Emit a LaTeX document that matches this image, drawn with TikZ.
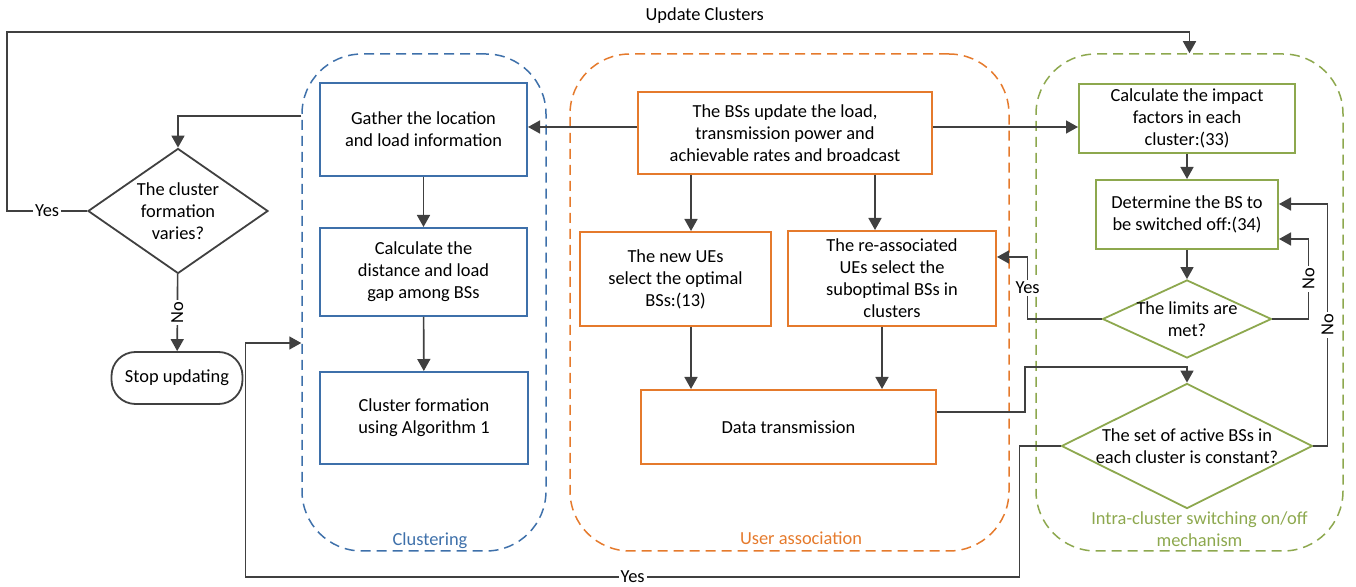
\documentclass[tikz,border=0pt]{standalone}
\usepackage{fontspec}
\setmainfont{Carlito}
\usetikzlibrary{shapes.geometric, arrows.meta, positioning, calc}
\definecolor{clblue}{HTML}{3E70AA}
\definecolor{uaorange}{HTML}{E57A2C}
\definecolor{swgreen}{HTML}{8DA84E}
\definecolor{linegray}{HTML}{404040}

\begin{document}
\begin{tikzpicture}[
		x=0.5pt, y=-0.5pt,
		font=\fontsize{9.2}{11}\selectfont,
		block/.style={
			rectangle, 
			draw, 
			line width=1pt, 
			align=center, 
			inner sep=0pt
		},
		decision/.style={
			diamond, 
			draw, 
			line width=0.9pt, 
			align=center, 
			inner sep=0pt
		},
		group/.style={
			rectangle, 
			draw, 
			dash pattern=on 5pt off 3pt, 
			line width=0.75pt, 
			rounded corners=30pt, 
			minimum height=248.5pt
		},
		arrow/.style={
			-{Triangle[length=6pt, width=6.5pt]}, 
			line width=0.8pt, 
			draw=linegray
		},
		lbl/.style={fill=white, inner sep=1pt}
		]
		\useasboundingbox (0,0) rectangle (1356,587);
		
		% Dashed groups
		\node (clustering) [group, draw=clblue, minimum width=122pt] at (424,302.5) {};
		\node (userassoc) [group, draw=uaorange, minimum width=219.5pt] at (789.5,302.5) {};
		\node (intra) [group, draw=swgreen, minimum width=153.5pt] at (1189.5,302.5) {};
		\node (cllbl) [text=clblue, above=-2pt of clustering.south, xshift=3pt] {Clustering};
		\node (ualbl) [text=uaorange, above=0pt of userassoc.south, xshift=5.75pt] {User association};
		\node (intralbl) [text=swgreen, align=center, above=-1pt of intra.south, xshift=5pt] {Intra-cluster switching on/off\\mechanism};
		
		% Clustering
		\node (gather) [block, draw=clblue, minimum width=103.5pt, minimum height=46.5pt] at (423.5,129.5) {Gather the location\\and load information};
		\node (gap) [block, draw=clblue, minimum width=103.5pt, minimum height=44pt] at (423.5,272) {Calculate the\\distance and load\\gap among BSs};
		\node (formation) [block, draw=clblue, minimum width=104pt, minimum height=46pt] at (424,418) {Cluster formation\\using Algorithm 1};
		
		% User association
		\node (update) [block, draw=uaorange, minimum width=147pt, minimum height=41pt] at (785,133) {The BSs update the load,\\transmission power and\\achievable rates and broadcast};
		\node (newue) [block, draw=uaorange, minimum width=95.5pt, minimum height=47pt] at (675.5,279) {The new UEs\\select the optimal\\BSs:(13)};
		\node (reassoc) [block, draw=uaorange, minimum width=104pt, minimum height=47.5pt] at (892,278.5) {The re-associated\\UEs select the\\suboptimal BSs in\\clusters};
		\node (data) [block, draw=uaorange, minimum width=147.5pt, minimum height=37pt] at (788.5,427) {Data transmission};
		
		% Switching on/off
		\node (impact) [block, draw=swgreen, minimum width=108pt, minimum height=34.5pt] at (1187,118.5) {Calculate the impact\\factors in each\\cluster:(33)};
		\node (switchoff) [block, draw=swgreen, minimum width=91pt, minimum height=34.5pt] at (1187,214.5) {Determine the BS to\\be switched off:(34)};
		\node (limits) [decision, draw=swgreen, shape aspect=2.17, inner xsep=-6.5pt, minimum width=84.5pt, minimum height=39pt] at (1187,319) {The limits are\\met?};
		\node (constant) [decision, draw=swgreen, shape aspect=2, inner xsep=-4.75pt, minimum width=125.5pt, minimum height=62.5pt] at (1187,446) {The set of active BSs in\\each cluster is constant?};
		
		% Left side
		\node (varies) [decision, draw=linegray, shape aspect=1.44, minimum width=90pt, minimum height=62.5pt] at (178,211) {The cluster\\formation\\varies?};
		\node (stop) [block, draw=linegray, line width=0.9pt, rounded corners=12pt, minimum width=65.5pt, minimum height=26pt] at (177,378) {Stop updating};
		
		% Connection arrows
		\draw [arrow] (gather) -- (gap);
		\draw [arrow] (gap) -- (formation);
		\draw [arrow] ([yshift=3pt]update.west) -- ([yshift=3pt]update.west -| gather.east);
		\draw [arrow] ([yshift=3pt]update.east) -- ([yshift=3pt]update.east -| impact.west);
		\draw [arrow] ([xshift=7.75pt]newue.north |- update.south) -- ([xshift=7.75pt]newue.north);
		\draw [arrow] ([xshift=-8.5pt]reassoc.north |- update.south) -- ([xshift=-8.5pt]reassoc.north);
		\draw [arrow] ([xshift=7.75pt]newue.south) -- ([xshift=7.75pt]newue.south |- data.north);
		\draw [arrow] ([xshift=-5pt]reassoc.south) -- ([xshift=-5pt]reassoc.south |- data.north);
		\draw [arrow] (impact) -- (switchoff);
		\draw [arrow] (switchoff) -- (limits);
		\draw [arrow] (limits.west) -- ++(-74,0) |- node[lbl, pos=0.25] {Yes} ([yshift=10.75pt]reassoc.east);
		\draw [arrow] (limits.east) -- ++(36,0) |- node[lbl, rotate=90, pos=0.25] {No} ([yshift=-12.25pt]switchoff.east);
		\draw [arrow] (constant.east) -- ++(14,0) |- node[lbl, rotate=90, pos=0.25] {No} ([yshift=5.25pt]switchoff.east);
		\draw [arrow] ([yshift=7.5pt]data.east) -- ++(88,0) -- ++(0,-45) -| (constant.north);
		\draw [arrow] (constant.west) -- ++(-41,0) -- ++(0,131) -- node[lbl] {Yes} ++(-774,0) |- ([yshift=-20.25pt]clustering.west);
		\draw [arrow] ([yshift=93.25pt]clustering.west) -| (varies.north);
		\draw [arrow] (varies) -- node[lbl, rotate=90] {No} (stop);
		\draw [arrow] (varies.west) -- node[lbl] {Yes} ++(-80,0) -- ++(0,-179) -| node[lbl, pos=0.295, above=3pt, fill=none] {Update Clusters} (intra.north);
		
	\end{tikzpicture}
\end{document}
